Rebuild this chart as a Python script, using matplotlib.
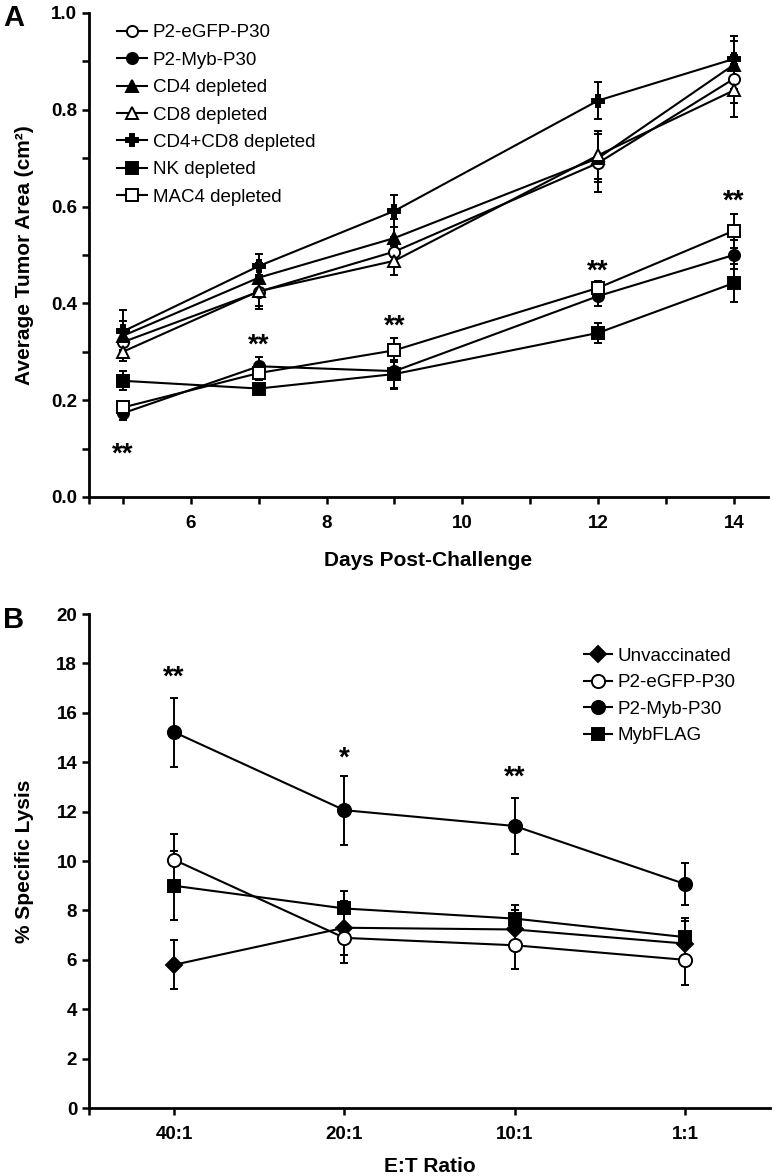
import matplotlib
matplotlib.use("Agg")
import matplotlib.pyplot as plt
from matplotlib.lines import Line2D
from matplotlib.ticker import MultipleLocator, FixedLocator

plt.rcParams['font.family'] = ['Liberation Sans', 'DejaVu Sans']

# ---- panel A: tumour area ----
days = [5, 7, 9, 12, 14]
egfp_a = [0.32, 0.424, 0.507, 0.69, 0.864]
egfp_a_err = [0.02, 0.035, 0.03, 0.06, 0.05]
myb_a = [0.173, 0.27, 0.26, 0.415, 0.50]
myb_a_err = [0.015, 0.02, 0.035, 0.02, 0.03]
cd4_a = [0.333, 0.453, 0.535, 0.70, 0.893]
cd4_a_err = [0.03, 0.03, 0.04, 0.05, 0.05]
cd8_a = [0.30, 0.425, 0.488, 0.706, 0.84]
cd8_a_err = [0.02, 0.03, 0.03, 0.05, 0.055]
cd48_a = [0.342, 0.477, 0.591, 0.819, 0.905]
cd48_a_err = [0.045, 0.025, 0.033, 0.038, 0.047]
nk_a = [0.24, 0.224, 0.254, 0.339, 0.442]
nk_a_err = [0.02, 0.01, 0.03, 0.02, 0.04]
mac4_a = [0.185, 0.256, 0.303, 0.432, 0.55]
mac4_a_err = [0.01, 0.015, 0.025, 0.015, 0.035]
stars_a = ["**", "**", "**", "**", "**"]
stars_a_y = [0.105, 0.33, 0.369, 0.483, 0.628]

# ---- panel B: lysis ----
ratios = ["40:1", "20:1", "10:1", "1:1"]
unvac_b = [5.8, 7.3, 7.23, 6.66]
unvac_b_err = [1.0, 1.1, 0.8, 0.9]
egfp_b = [10.05, 6.89, 6.59, 6.0]
egfp_b_err = [1.05, 1.0, 0.96, 1.0]
myb_b = [15.22, 12.06, 11.42, 9.07]
myb_b_err = [1.4, 1.4, 1.15, 0.85]
flag_b = [9.0, 8.08, 7.67, 6.92]
flag_b_err = [1.4, 0.7, 0.56, 0.76]
stars_b = ["**", "*", "**"]
stars_b_y = [17.76, 14.5, 13.7]

fig = plt.figure(figsize=(7.74, 11.76), dpi=100)
axA = fig.add_axes([0.115, 0.5774, 0.877, 0.4116])
axB = fig.add_axes([0.115, 0.0578, 0.880, 0.420])

LW = 1.5
ekw = dict(ecolor='black', elinewidth=1.4, capsize=3, capthick=1.4)


def series(ax, x, y, err, marker, face, ms):
    ax.errorbar(x, y, yerr=err, color='black', lw=LW, marker=marker, ms=ms,
                mfc=face, mec='black', mew=1.4, **ekw)
    return Line2D([], [], color='black', lw=LW, marker=marker, ms=ms,
                  mfc=face, mec='black', mew=1.4)


def stars(ax, xs, ys, labels):
    for x, y, s in zip(xs, ys, labels):
        ax.annotate(s, xy=(x, y), xytext=(0, -11), textcoords='offset points',
                    ha='center', va='baseline', fontsize=20, fontweight='bold')


hA = [
    (series(axA, days, egfp_a, egfp_a_err, 'o', 'white', 8), 'P2-eGFP-P30'),
    (series(axA, days, myb_a, myb_a_err, 'o', 'black', 8), 'P2-Myb-P30'),
    (series(axA, days, cd4_a, cd4_a_err, '^', 'black', 8), 'CD4 depleted'),
    (series(axA, days, cd8_a, cd8_a_err, '^', 'white', 8), 'CD8 depleted'),
    (series(axA, days, cd48_a, cd48_a_err, 'P', 'black', 9), 'CD4+CD8 depleted'),
    (series(axA, days, nk_a, nk_a_err, 's', 'black', 8), 'NK depleted'),
    (series(axA, days, mac4_a, mac4_a_err, 's', 'white', 8), 'MAC4 depleted'),
]
stars(axA, days, stars_a_y, stars_a)

axA.set_xlim(4.5, 14.5)
axA.set_ylim(0, 1.0)
axA.xaxis.set_major_locator(FixedLocator([6, 8, 10, 12, 14]))
axA.xaxis.set_minor_locator(FixedLocator([4.5, 5, 7, 9, 11, 13]))
axA.yaxis.set_major_locator(MultipleLocator(0.2))
axA.yaxis.set_minor_locator(MultipleLocator(0.1))
axA.yaxis.set_major_formatter(plt.FuncFormatter(lambda v, p: f"{v:.1f}"))
axA.set_xlabel("Days Post-Challenge", fontsize=15, fontweight='bold', labelpad=14)
axA.set_ylabel("Average Tumor Area (cm²)", fontsize=15, fontweight='bold', labelpad=12)
axA.legend([h for h, _ in hA], [l for _, l in hA], loc='upper left',
           bbox_to_anchor=(0.025, 1.0), frameon=False, handlelength=1.6,
           handletextpad=0.3, labelspacing=0.55, borderaxespad=0.2,
           prop={'size': 13.5})

idx = list(range(len(ratios)))
hB = [
    (series(axB, idx, unvac_b, unvac_b_err, 'D', 'black', 8.5), 'Unvaccinated'),
    (series(axB, idx, egfp_b, egfp_b_err, 'o', 'white', 9.5), 'P2-eGFP-P30'),
    (series(axB, idx, myb_b, myb_b_err, 'o', 'black', 9.5), 'P2-Myb-P30'),
    (series(axB, idx, flag_b, flag_b_err, 's', 'black', 9), 'MybFLAG'),
]
stars(axB, idx, stars_b_y, stars_b)

axB.set_xlim(-0.5, 3.5)
axB.set_ylim(0, 20)
axB.set_xticks(idx)
axB.set_xticklabels(ratios)
axB.xaxis.set_minor_locator(FixedLocator([-0.5]))
axB.yaxis.set_major_locator(MultipleLocator(2))
axB.set_xlabel("E:T Ratio", fontsize=15, fontweight='bold', labelpad=10)
axB.set_ylabel("% Specific Lysis", fontsize=15, fontweight='bold', labelpad=16)
axB.legend([h for h, _ in hB], [l for _, l in hB], loc='upper left',
           bbox_to_anchor=(0.71, 0.955), frameon=False, handlelength=1.5,
           handletextpad=0.3, labelspacing=0.5, borderaxespad=0.2,
           prop={'size': 13.5})

for ax in (axA, axB):
    for side in ('top', 'right'):
        ax.spines[side].set_visible(False)
    for side in ('left', 'bottom'):
        ax.spines[side].set_linewidth(2)
    ax.tick_params(which='both', direction='out', width=1.8, length=5,
                   labelsize=13.5)
    ax.tick_params(axis='x', pad=8)
    for lab in ax.get_xticklabels() + ax.get_yticklabels():
        lab.set_fontweight('bold')

fig.text(0.004, 0.997, "A", fontsize=21, fontweight='bold', va='top')
fig.text(0.004, 0.485, "B", fontsize=21, fontweight='bold', va='top')

fig.savefig("out.png", dpi=100)
